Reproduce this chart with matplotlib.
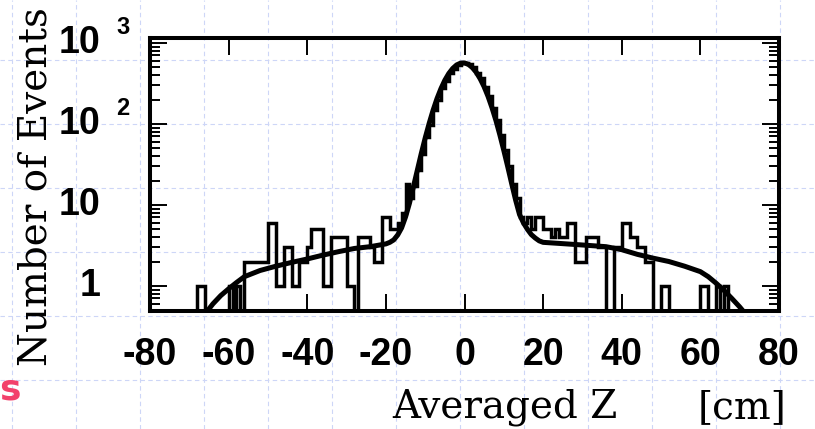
import numpy as np
import matplotlib
matplotlib.use("Agg")
import matplotlib.pyplot as plt
import matplotlib.transforms as mtransforms
from matplotlib.ticker import LogLocator, NullFormatter

plt.rcParams['axes.unicode_minus'] = False

# histogram: 1 cm bins from -80 to 80
bin_lo, bin_hi = -80, 80
counts = [
    0, 0, 0, 0, 0, 0, 0, 0, 0, 0,            # -80 .. -71
    0, 0, 1, 1, 0, 0, 0, 0, 0, 0,            # -70 .. -61
    1, 0, 1, 0, 2, 2, 2, 2, 2, 2,            # -60 .. -51
    6, 6, 1, 1, 3, 3, 1, 1, 2, 2,            # -50 .. -41
    3, 5, 5, 5, 1, 1, 4, 4, 4, 4,            # -40 .. -31
    1, 1, 0, 4, 4, 4, 3, 2, 2, 7,            # -30 .. -21
    7, 5, 5, 6, 8, 18, 12, 17, 27, 42,       # -20 .. -11
    68, 98, 150, 200, 275, 340, 420, 480, 540, 560,   # -10 .. -1
    565, 545, 500, 430, 365, 285, 220, 155, 112, 72,  # 0 .. 9
    48, 30, 18, 12, 7, 6, 7, 5, 7, 7,        # 10 .. 19
    5, 5, 4, 5, 4, 4, 6, 6, 2, 2,            # 20 .. 29
    2, 4, 4, 4, 3, 3, 0, 0, 3, 3,            # 30 .. 39
    6, 6, 4, 4, 3, 3, 2, 2, 0, 0,            # 40 .. 49
    1, 1, 0, 0, 0, 0, 0, 0, 0, 0,            # 50 .. 59
    1, 1, 0, 0, 1, 0, 1, 0, 0, 0,            # 60 .. 69
    0, 0, 0, 0, 0, 0, 0, 0, 0, 0,            # 70 .. 79
]

# fitted curve
fit_z = [-66, -64, -62, -60, -58, -56, -52, -48, -44, -40, -36, -32, -28, -24,
         -20, -19, -18, -17, -16, -15, -14, -13, -12, -11, -10, -9, -8, -7,
         -6, -5, -4, -3, -2, -1, 0, 1, 2, 3, 4, 5, 6, 7, 8, 9, 10, 11, 12,
         13, 14, 15, 16, 17, 18, 19, 20, 24, 28, 32, 36, 40, 44, 48, 52, 56,
         60, 62, 64, 66, 68, 70, 72]
fit_v = [0.45, 0.6, 0.76, 0.92, 1.1, 1.3, 1.55, 1.75, 1.95, 2.15, 2.4, 2.65, 2.9, 3.05,
         3.3, 3.45, 3.7, 4.25, 5.2, 7.1, 10.5, 16.7, 26.8, 43, 67, 101, 147, 205,
         272, 346, 419, 484, 535, 563, 566, 543, 496, 433, 360, 287, 218, 158, 110, 73, 47, 29.6, 18.3,
         11.5, 7.6, 6.0, 5.0, 4.3, 3.9, 3.6, 3.45, 3.35, 3.25, 3.15, 3.05, 2.8, 2.45, 2.2, 2.0, 1.75,
         1.5, 1.3, 1.08, 0.88, 0.7, 0.55, 0.42]

x_ticks = [-80, -60, -40, -20, 0, 20, 40, 60, 80]
y_decades = [1, 10, 100, 1000]
y_mant = ['1', '10', '10', '10']
y_exp = ['', '', '2', '3']

W, H = 815, 429
fig = plt.figure(figsize=(W / 100, H / 100), dpi=100)

# grid paper behind everything
bg = fig.add_axes([0, 0, 1, 1])
bg.set_xlim(0, W)
bg.set_ylim(H, 0)
bg.axis('off')
grid_col = '#cdd6f7'
for gx in range(12, W, 64):
    bg.axvline(gx, color=grid_col, lw=0.8, ls=(0, (4, 3)))
for gy in range(60, H, 64):
    bg.axhline(gy, color=grid_col, lw=0.8, ls=(0, (4, 3)))

ax = fig.add_axes([150 / W, 1 - 311 / H, (779 - 150) / W, (311 - 38) / H])
ax.set_facecolor('none')

edges = np.arange(bin_lo, bin_hi + 1, 1)
c = np.array(counts, dtype=float)
ax.stairs(np.where(c > 0, c, 1e-2), edges, color='black', lw=2.5, baseline=None)
ax.plot(fit_z, fit_v, color='black', lw=3.6, solid_capstyle='round')

ax.set_yscale('log')
ax.set_xlim(bin_lo, bin_hi)
ax.set_ylim(0.49, 1150)

for s in ax.spines.values():
    s.set_linewidth(2.9)

tick_font = dict(family='Liberation Sans', fontweight='bold')
ax.set_xticks(x_ticks)
ax.set_xticklabels([str(t) for t in x_ticks], fontsize=27, **tick_font)
ax.tick_params(axis='x', which='major', direction='in', length=12, width=1.4,
               top=True, bottom=True, pad=19)
ax.tick_params(axis='x', which='minor', top=False, bottom=False)

ax.yaxis.set_major_locator(LogLocator(base=10, numticks=10))
ax.yaxis.set_minor_locator(LogLocator(base=10, subs=np.arange(2, 10), numticks=20))
ax.yaxis.set_major_formatter(NullFormatter())
ax.yaxis.set_minor_formatter(NullFormatter())
ax.tick_params(axis='y', which='major', direction='in', length=12, width=1.4, left=True, right=True)
ax.tick_params(axis='y', which='minor', direction='in', length=7, width=1.4, left=True, right=True)

# y tick labels: mantissa right aligned, exponent sticking out
trans = mtransforms.blended_transform_factory(fig.transFigure, ax.transData)
for v, m, e in zip(y_decades, y_mant, y_exp):
    ax.text(100 / W, v, m, transform=trans, ha='right', va='center',
            fontsize=27, **tick_font)
    if e:
        ax.annotate(e, xy=(116 / W, v), xycoords=trans, xytext=(0, 11),
                    textcoords='offset points', ha='left', va='center',
                    fontsize=17, **tick_font)

fig.text(36 / W, 1 - 187 / H, 'Number of Events', rotation=90, ha='center', va='center',
         fontsize=28, family='DejaVu Serif')
fig.text(392 / W, 1 - 418 / H, 'Averaged Z', ha='left', va='baseline',
         fontsize=28, family='DejaVu Serif')
fig.text(698 / W, 1 - 418 / H, '[cm]', ha='left', va='baseline',
         fontsize=28, family='DejaVu Serif')
fig.text(-1 / W, 1 - 399 / H, 's', ha='left', va='baseline', color='#f2416c',
         fontsize=26, fontweight='bold', family='DejaVu Sans')

fig.savefig('out.png', dpi=100)
